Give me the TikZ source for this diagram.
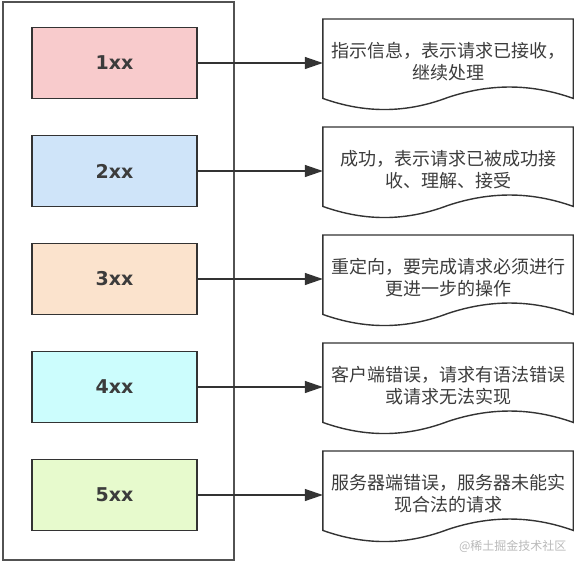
\documentclass[tikz,border=0pt]{standalone}
\usepackage{fontspec}
\setmainfont{DejaVu Sans}
\newfontfamily\cjk{Noto Sans CJK SC}
\usepackage{xcolor}
\usetikzlibrary{positioning,arrows.meta,calc}
\definecolor{redfill}{HTML}{F8CBCC}
\definecolor{bluefill}{HTML}{CFE4F9}
\definecolor{orangefill}{HTML}{FBE3CD}
\definecolor{cyanfill}{HTML}{CCFDFD}
\definecolor{greenfill}{HTML}{E7FACD}
\definecolor{edgegray}{HTML}{333333}
\definecolor{textgray}{HTML}{3C3C3C}

\begin{document}
\begin{tikzpicture}[x=1pt,y=-1pt,
  codebox/.style={draw=edgegray, line width=1.4pt, minimum width=165pt, minimum height=71pt,
    font=\fontsize{19}{22}\selectfont\bfseries, text=textgray},
  docnode/.style={minimum width=250pt, minimum height=85pt, text width=250pt, align=center,
    inner sep=0pt, font=\cjk\fontsize{18}{22}\selectfont, text=textgray},
  docline/.style={draw=edgegray, line width=1.4pt},
  link/.style={draw=edgegray, line width=1.3pt, -{Triangle[length=18pt,width=12pt]}}]
  \useasboundingbox (0,0) rectangle (585,568);
  \draw[edgegray!85, line width=1.5pt] (3,2) rectangle (234,560);
  \foreach \i/\col/\txt in {1/redfill/{指示信息，表示请求已接收，\\继续处理},
      2/bluefill/{成功，表示请求已被成功接\\收、理解、接受},
      3/orangefill/{重定向，要完成请求必须进行\\更进一步的操作},
      4/cyanfill/{客户端错误，请求有语法错误\\或请求无法实现},
      5/greenfill/{服务器端错误，服务器未能实\\现合法的请求}}{
    \node[codebox, fill=\col] (code\i) at (114.5, {63+108*(\i-1)}) {\i xx};
    \node[docnode, anchor=north] (doc\i) at (448, {19+108*(\i-1)}) {\txt};
    \draw[docline] (doc\i.north west) -- (doc\i.north east) -- ($(doc\i.south east)+(0,-6)$)
      .. controls ($(doc\i.south east)+(-42,-21)$) and ($(doc\i.south east)+(-83,-21)$) .. ($(doc\i.south)+(0,-7)$)
      .. controls ($(doc\i.south west)+(83,9)$) and ($(doc\i.south west)+(42,9)$) .. ($(doc\i.south west)+(0,-6)$) -- cycle;
    \draw[link] (code\i.east) -- (code\i.east -| doc\i.west);
  }
  \node[anchor=east, text=gray!55, font=\cjk\fontsize{12}{14}\selectfont] (mark) at (570,546) {@稀土掘金技术社区};
\end{tikzpicture}
\end{document}
